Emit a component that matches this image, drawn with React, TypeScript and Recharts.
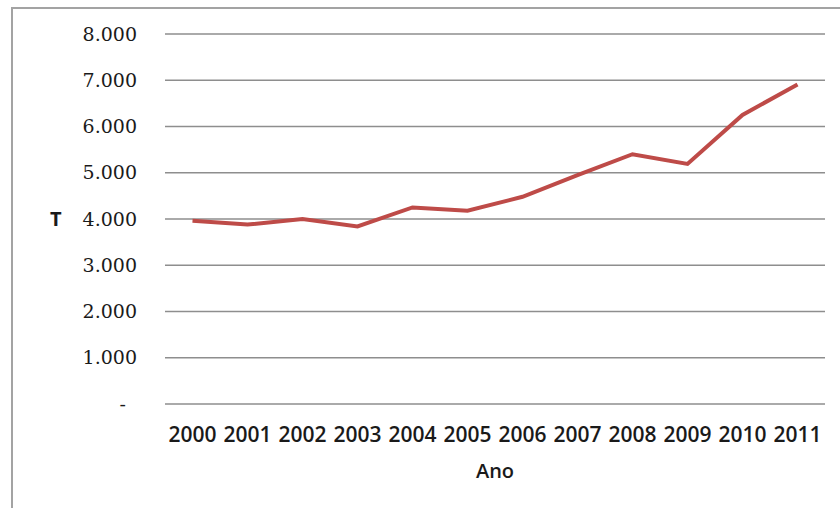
import React from 'react';
import { LineChart, Line, XAxis, YAxis, CartesianGrid, Label } from 'recharts';

const anos = ['2000', '2001', '2002', '2003', '2004', '2005', '2006', '2007', '2008', '2009', '2010', '2011'];
const toneladas = [3960, 3880, 4000, 3840, 4250, 4180, 4480, 4950, 5400, 5190, 6250, 6910];
const yTicks = [0, 1000, 2000, 3000, 4000, 5000, 6000, 7000, 8000];

const data = anos.map((ano, i) => ({ ano, t: toneladas[i] }));

const fmt = (v: number) => (v === 0 ? '-' : v.toLocaleString('de-DE'));

// excel style y tick: serif, zero shown as a dash a bit further left
const YTick = (props: any) => {
  const { x, y, payload } = props;
  const zero = payload.value === 0;
  return (
    <text
      x={x - (zero ? 11 : 0)}
      y={y}
      dy="0.35em"
      textAnchor="end"
      fontFamily="'DejaVu Serif', serif"
      fontSize={19}
      fill="#1a1a1a"
    >
      {fmt(payload.value)}
    </text>
  );
};

export default function App() {
  return (
    <div style={{ position: 'absolute', left: 0, top: 0, width: 840, height: 508, background: '#fff', overflow: 'hidden' }}>
      <div
        style={{
          position: 'absolute',
          left: 11,
          top: 7,
          width: 840,
          height: 520,
          borderLeft: '2px solid #a3a3a3',
          borderTop: '2px solid #a3a3a3',
        }}
      />
      <LineChart
        width={840}
        height={508}
        data={data}
        margin={{ top: 34, right: 15, bottom: 30, left: 0 }}
        style={{ position: 'absolute', left: 0, top: 0 }}
      >
        <CartesianGrid vertical={false} stroke="#8e8e8e" strokeWidth={1.5} />
        <XAxis
          dataKey="ano"
          height={74}
          padding={{ left: 27.5, right: 27.5 }}
          axisLine={false}
          tickLine={false}
          tickSize={0}
          tickMargin={23}
          interval={0}
          tick={{ fontFamily: "'Open Sans', sans-serif", fontSize: 21, fontWeight: 600, fill: '#1a1a1a' }}
        >
          <Label
            value="Ano"
            position="insideBottom"
            offset={0}
            style={{ fontFamily: "'Open Sans', sans-serif", fontSize: 20, fontWeight: 600, fill: '#1a1a1a' }}
          />
        </XAxis>
        <YAxis
          width={165}
          domain={[0, 8000]}
          ticks={yTicks}
          axisLine={false}
          tickLine={false}
          tickSize={0}
          tickMargin={28}
          tick={<YTick />}
        >
          <Label
            value="T"
            position="insideLeft"
            offset={50}
            style={{ fontFamily: "'Open Sans', sans-serif", fontSize: 20, fontWeight: 700, fill: '#1a1a1a' }}
          />
        </YAxis>
        <Line
          type="linear"
          dataKey="t"
          stroke="#be4b48"
          strokeWidth={4}
          dot={false}
          isAnimationActive={false}
        />
      </LineChart>
    </div>
  );
}
